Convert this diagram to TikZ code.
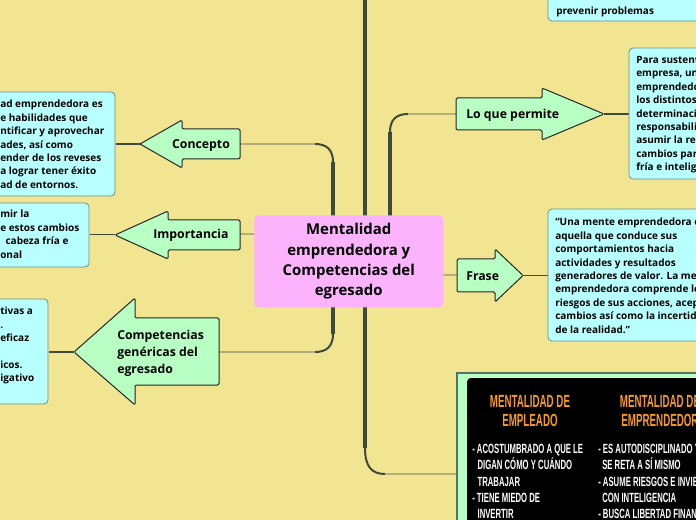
\documentclass[tikz,border=0pt]{standalone}
\usepackage{fontspec}
\setmainfont{Open Sans}
\newfontfamily\cond[FakeStretch=0.58]{Liberation Sans}
\newfontfamily\condhead[FakeStretch=0.555]{Liberation Sans}
\definecolor{bgc}{HTML}{F1E592}
\definecolor{cyanc}{HTML}{B8FFFF}
\definecolor{greenc}{HTML}{B8FFC4}
\definecolor{pinkc}{HTML}{FBB4FB}
\definecolor{linec}{HTML}{3F4A3C}
\definecolor{linel}{HTML}{B4AE78}
\definecolor{boxb}{HTML}{6F8F80}
\definecolor{orangec}{HTML}{F59A23}
\tikzset{x=0.75pt,y=-0.75pt,
 heavy/.style={draw=linec,line width=2.4pt},
 curveline/.style={draw=linec,line width=1.5pt},
 light/.style={draw=linel,line width=1pt},
 thin link/.style={draw=linec,line width=1pt},
 textbox/.style={draw=boxb,line width=0.6pt,fill=cyanc,rounded corners=3pt},
 arrowshape/.style={draw=black!85,line width=0.75pt,fill=greenc,rounded corners=1pt},
 body/.style={inner sep=0pt,anchor=north west,align=left,font=\bfseries\fontsize{7.5pt}{10.05pt}\selectfont},
 label/.style={inner sep=0pt,font=\bfseries\fontsize{9.2pt}{12.6pt}\selectfont,align=left},
 condt/.style={inner sep=0pt,anchor=north west,align=left,text=white,font=\cond\bfseries\fontsize{10pt}{12.2pt}\selectfont},
 condh/.style={inner sep=0pt,align=center,text=orangec,font=\condhead\bfseries\fontsize{13.2pt}{13.6pt}\selectfont}}
\begin{document}
\begin{tikzpicture}
\useasboundingbox (0,0) rectangle (696,520);
\clip (0,0) rectangle (696,520);
\fill[bgc] (0,0) rectangle (696,520);
% connectors
\draw[heavy] (365,0) -- (365,448);
\draw[curveline] (365,448) .. controls (365,467) and (372,474) .. (385,474);
\draw[light] (385,474) -- (457,474);
\draw[heavy] (390,216) -- (390,132);
\draw[curveline] (390,132) .. controls (390,120) and (396,114) .. (408,114);
\draw[light] (408,114) -- (457,114);
\draw[light] (443,275) -- (457,275);
\draw[heavy] (333,216) -- (333,162);
\draw[curveline] (333,162) .. controls (333,150) and (327,144) .. (315,144);
\draw[light] (315,144) -- (240,144);
\draw[light] (240,234) -- (255,234);
\draw[heavy] (333,306) -- (333,334);
\draw[curveline] (333,334) .. controls (333,346) and (327,352) .. (315,352);
\draw[light] (315,352) -- (219,352);
\draw[thin link] (116,144) -- (141,144);
\draw[thin link] (90,234.5) -- (115,234.5);
\draw[thin link] (49,352) -- (74,352);
\draw[thin link] (604,114) -- (629,114);
\draw[thin link] (523,275.5) -- (548,275.5);
% central
\node[fill=pinkc,rounded corners=3pt,minimum width=141.75pt,minimum height=69pt,inner sep=0pt,anchor=north west,font=\bfseries\fontsize{11.2pt}{15.3pt}\selectfont] (root) at (254,215) {\raisebox{-1.5pt}{\begin{tabular}{@{}c@{}}Mentalidad\\emprendedora y\\Competencias del\\egresado\end{tabular}}};
% left boxes
\draw[textbox] (-6,92) rectangle (115,196);
\node[body] (conceptotxt) at (0,100) {ad emprendedora es\\e habilidades que\\ntificar y aprovechar\\ades, así como\\ender de los reveses\\a lograr tener éxito\\ad de entornos.};
\draw[textbox] (-6,203) rectangle (89,267);
\node[body] (importanciatxt) at (0,210) {mir la\\e estos cambios\\\hspace*{4pt}cabeza fría e\\onal};
\draw[textbox] (-6,299) rectangle (48,404);
\node[body] (compttxt) at (0,307) {tivas a\\.\\eficaz\\\mbox{}\\icos.\\igativo};
% arrows
\draw[arrowshape] (140,144) -- (182,120) -- (182,129) -- (240,129) -- (240,159) -- (182,159) -- (182,168) -- cycle;
\node[label,anchor=center] (concepto) at (201,145.5) {Concepto};
\draw[arrowshape] (115,235) -- (168,211) -- (168,220) -- (240,220) -- (240,250) -- (168,250) -- (168,259) -- cycle;
\node[label,anchor=center] (importancia) at (191,235.5) {Importancia};
\draw[arrowshape] (74,352) -- (135,298) -- (135,318) -- (219,318) -- (219,385) -- (135,385) -- (135,405) -- cycle;
\node[label,anchor=west] (comp) at (117,353.5) {Competencias\\genéricas del\\egresado};
\draw[arrowshape] (604,114) -- (542,88) -- (542,98) -- (456,98) -- (456,130) -- (542,130) -- (542,140) -- cycle;
\node[label,anchor=west] (permite) at (466,115) {Lo que permite};
\draw[arrowshape] (523,275.5) -- (495,249) -- (495,259) -- (457,259) -- (457,292) -- (495,292) -- (495,302) -- cycle;
\node[label,anchor=west] (frase) at (466,276.5) {Frase};
% right boxes
\draw[textbox] (548,-10) rectangle (705,21);
\node[body] (toptxt) at (556,7) {prevenir problemas};
\draw[textbox] (629,48) rectangle (705,179);
\node[body] (permitetxt) at (636,56) {Para sustent\\empresa, un\\emprendedo\\los distintos\\determinaci\\responsabili\\asumir la re\\cambios par\\fría e intelig};
\draw[textbox] (548,209) rectangle (705,341);
\node[body] (frasetxt) at (555,218) {“Una mente emprendedora es\\aquella que conduce sus\\comportamientos hacia\\actividades y resultados\\generadores de valor. La men\\emprendedora comprende los\\riesgos de sus acciones, acep\\cambios así como la incertid\\de la realidad.”};
% image node
\draw[draw=boxb!80!black,line width=1pt,fill=greenc] (457,373) rectangle (705,530);
\fill[black,rounded corners=3pt] (467,378) rectangle (705,530);
\node[condh] (h1) at (530,411) {MENTALIDAD DE\\EMPLEADO};
\node[condh] (h2) at (660,411) {MENTALIDAD DE\\EMPRENDEDOR};
\node[condt] (c1) at (472,444) {- ACOSTUMBRADO A QUE LE\\\hspace*{4pt}DIGAN CÓMO Y CUÁNDO\\\hspace*{4pt}TRABAJAR\\- TIENE MIEDO DE\\\hspace*{4pt}INVERTIR};
\node[condt] (c2) at (598,444) {- ES AUTODISCIPLINADO Y\\\hspace*{3pt}SE RETA A SÍ MISMO\\- ASUME RIESGOS E INVIERTE\\\hspace*{3pt}CON INTELIGENCIA\\- BUSCA LIBERTAD FINANCIERA};
\end{tikzpicture}
\end{document}
